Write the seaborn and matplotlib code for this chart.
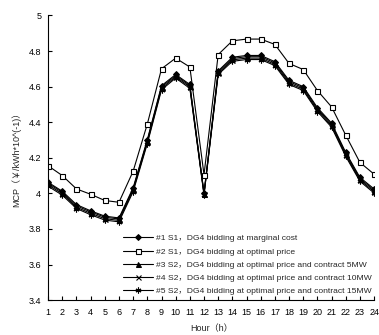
import matplotlib
matplotlib.use("Agg")
import matplotlib.pyplot as plt
import seaborn as sns
import pandas as pd

hours = list(range(1, 25))
s1 = [4.062, 4.012, 3.937, 3.902, 3.872, 3.862, 4.032, 4.302, 4.605, 4.668, 4.612, 4.002,
      4.688, 4.765, 4.775, 4.775, 4.740, 4.635, 4.600, 4.482, 4.395, 4.230, 4.090, 4.025]
s2 = [4.155, 4.100, 4.025, 3.995, 3.960, 3.950, 4.125, 4.390, 4.700, 4.760, 4.710, 4.105,
      4.780, 4.857, 4.867, 4.867, 4.837, 4.730, 4.696, 4.578, 4.486, 4.327, 4.174, 4.108]
s3 = [4.056, 4.006, 3.930, 3.896, 3.866, 3.856, 4.026, 4.296, 4.598, 4.662, 4.606, 3.998,
      4.682, 4.758, 4.768, 4.768, 4.733, 4.628, 4.593, 4.475, 4.388, 4.223, 4.083, 4.018]
s4 = [4.048, 3.998, 3.922, 3.888, 3.858, 3.848, 4.018, 4.288, 4.590, 4.655, 4.598, 3.995,
      4.675, 4.750, 4.760, 4.760, 4.725, 4.620, 4.585, 4.467, 4.380, 4.215, 4.075, 4.010]
s5 = [4.040, 3.990, 3.915, 3.880, 3.850, 3.840, 4.010, 4.280, 4.582, 4.648, 4.590, 3.992,
      4.668, 4.742, 4.752, 4.752, 4.718, 4.612, 4.578, 4.460, 4.372, 4.208, 4.068, 4.002]

labels = [
    "#1 S1，DG4 bidding at marginal cost",
    "#2 S1，DG4 bidding at optimal price",
    "#3 S2，DG4 bidding at optimal price and contract 5MW",
    "#4 S2，DG4 bidding at optimal price and contract 10MW",
    "#5 S2，DG4 bidding at optimal price and contract 15MW",
]
series = [s1, s2, s3, s4, s5]
yticks = [3.4, 3.6, 3.8, 4.0, 4.2, 4.4, 4.6, 4.8, 5.0]
ytick_labels = ["3.4", "3.6", "3.8", "4", "4.2", "4.4", "4.6", "4.8", "5"]

sns.set_theme(style="white")
fam = ["Liberation Sans", "Noto Sans CJK SC", "DejaVu Sans"]
plt.rcParams["font.family"] = fam

fig = plt.figure(figsize=(3.79, 3.35), dpi=100)
ax = fig.add_axes([0.127, 0.104, 0.86, 0.85])

styles = [
    dict(marker="D", markersize=3.0, markerfacecolor="black", markeredgecolor="black"),
    dict(marker="s", markersize=3.6, markerfacecolor="white", markeredgecolor="black", markeredgewidth=0.8),
    dict(marker="^", markersize=3.6, markerfacecolor="black", markeredgecolor="black"),
    dict(marker="x", markersize=3.6, markeredgecolor="black", markeredgewidth=0.8),
    dict(marker=(6, 2, 0), markersize=4.2, markeredgecolor="black", markeredgewidth=0.8),
]
order = [0, 2, 3, 4, 1]
for i in order:
    df = pd.DataFrame({"Hour": hours, "MCP": series[i]})
    sns.lineplot(data=df, x="Hour", y="MCP", ax=ax, color="black", linewidth=0.8,
                 label=labels[i], **styles[i])

ax.set_xlim(1, 24)
ax.set_ylim(3.4, 5.0)
ax.set_xticks(hours)
ax.set_xticklabels([str(h) for h in hours])
ax.set_yticks(yticks)
ax.set_yticklabels(ytick_labels)
for s in ["top", "right"]:
    ax.spines[s].set_visible(False)
for s in ["left", "bottom"]:
    ax.spines[s].set_color("black")
    ax.spines[s].set_linewidth(0.8)
ax.tick_params(axis="both", which="major", direction="in", length=3, width=0.8,
               labelsize=6.5, colors="black", pad=4, bottom=True, left=True)
ax.tick_params(axis="x", pad=6)
ax.tick_params(axis="y", pad=5)
ax.set_xlabel("Hour（h）", fontsize=6.5, family=fam, labelpad=5)
ax.set_ylabel("MCP（￥/kWh*10^(-1)）", fontsize=6.5, family=fam, labelpad=5)

handles, lbls = ax.get_legend_handles_labels()
hmap = dict(zip(lbls, handles))
ax.legend([hmap[l] for l in labels], labels, loc="lower left",
          bbox_to_anchor=(0.215, 0.0), frameon=False,
          handlelength=3.5, handletextpad=0.35, labelspacing=0.62, borderaxespad=0.2,
          prop={"family": fam, "size": 6.1})

fig.savefig("out.png", dpi=100)
